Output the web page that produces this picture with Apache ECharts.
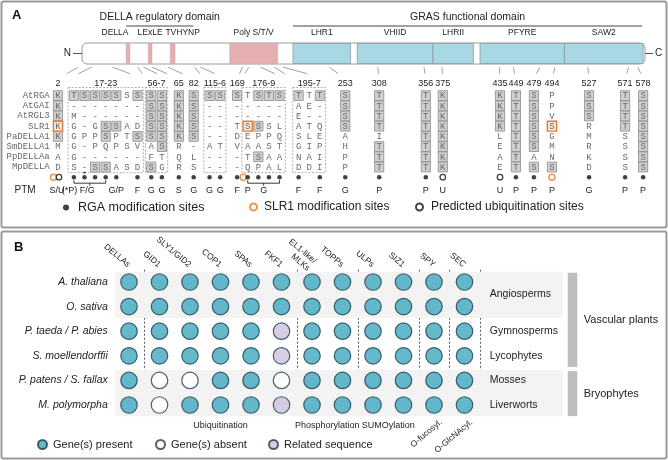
<!DOCTYPE html>
<html><head><meta charset="utf-8">
<script src="https://cdn.jsdelivr.net/npm/echarts@6/dist/echarts.min.js"></script>
<style>html,body{margin:0;padding:0;background:#fff}#c{width:668px;height:460px}</style>
</head><body><div id="c"></div>
<script>
// ================= DATA =================
// Panel A – domain architecture (RGA, amino-acid positions)
const proteinLength = 587;
const headerNames = ['DELLA regulatory domain', 'GRAS functional domain'];
const headerStart = [46, 220];
const headerEnd = [116, 584];
const domainNames = ['DELLA', 'LExLE', 'TVHYNP', 'Poly S/T/V', 'LHR1', 'VHIID', 'LHRII', 'PFYRE', 'SAW2'];
const domainStart = [46, 69, 92, 154, 220, 287, 366, 415, 503];
const domainEnd   = [50, 73, 97, 204, 280, 366, 408, 503, 585];
const domainKind  = ['reg', 'reg', 'reg', 'reg', 'gras', 'gras', 'gras', 'gras', 'gras'];

// Panel A – alignment
const species = ['AtRGA', 'AtGAI', 'AtRGL3', 'SLR1', 'PaDELLA1', 'SmDELLA1', 'PpDELLAa', 'MpDELLA'];
const siteGroups = ['2', '17-23', '56-7', '65', '82', '115-6', '169', '176-9', '195-7', '253', '308', '356', '375', '435', '449', '479', '494', '527', '571', '578'];
const groupSize = [1, 7, 2, 1, 1, 2, 1, 4, 3, 1, 1, 1, 1, 1, 1, 1, 1, 1, 1, 1];
const framedGroups = ['17-23', '56-7', '115-6', '176-9', '195-7'];
const sites = [2, 17, 18, 19, 20, 21, 22, 23, 56, 57, 65, 82, 115, 116, 169, 176, 177, 178, 179, 195, 196, 197, 253, 308, 356, 375, 435, 449, 479, 494, 527, 571, 578];
const residues = [
  'K TSSSSSS SS K S SS S TSTS TTT S T T K K T S P S T S',
  'K ------- SS K S -- - ---- AE- S T T K K T S P S T S',
  'K M------ SS K S -- - ---- E-- S T T K K T S V S T S',
  'K G-GSSAD SS K S -- T SSSL ATQ S T T K K T S S R T S',
  'K GPPSPTS SS K S -- D EPPQ SLE A I T K L T S G M S S',
  'M G-PQPSV AS R - AT V AAST GIP H T T K E T S M R S S',
  'A G------ FT Q L -- - TSAA NAI P T T K A T A N K S S',
  'D S-SSASD SG R S -- - QPAL DDI P T T K E T S S D S S'
].map(s => s.replace(/ /g, ''));
// B = boxed (conserved site), O = SLR1 site, . = not boxed
const boxes = [
  'B BBBBB.B BB B B BB B .BBB B.B B B B B B B B . B B B',
  'B ....... BB B B .. . .... ... B B B B B B B . B B B',
  'B ....... BB B B .. . .... ... B B B B B B B . B B B',
  'O ...BB.. BB B B .. . OB.. ... B B B B B B B O . B B',
  'B ...B..B BB B B .. . .... ... . . B B . B B . . . B',
  '. ....... .B . . .. . .... ... . B B B . B B . . . B',
  '. ....... .. . . .. . .B.. ... . B B B . B . . . . B',
  '. ..BB... B. . . .. . .... ... . B B B . B B B . . B'
].map(s => s.replace(/ /g, ''));
const rgaSites  = [17, 18, 19, 20, 21, 23, 56, 57, 65, 82, 115, 116, 169, 176, 177, 178, 179, 195, 197, 253, 308, 356, 449, 479, 527, 571, 578];
const slr1Sites = [2, 176, 494];
const ubiSites  = [2, 375, 435];
const starSites = [18];
const ptmLabels = ['S/U', '(*P)', '', '', '', 'G/P', '', 'F', 'G', 'G', 'S', 'G', 'G', 'G', 'F', 'P', '', '', '', 'F', '', 'F', 'G', 'P', 'P', 'U', 'U', 'P', 'P', 'P', 'G', 'P', 'P'];
const ptmBracketFrom = [17, 176];
const ptmBracketTo = [20, 179];
const ptmBracketLabel = ['F/G', 'G'];

// Panel B – presence matrix
const taxa = ['A. thaliana', 'O. sativa', 'P. taeda / P. abies', 'S. moellendorffii', 'P. patens / S. fallax', 'M. polymorpha'];
const genes = ['DELLAs', 'GID1', 'SLY1/GID2', 'COP1', 'SPAs', 'FKF1', 'EL1-like/\nMLKs', 'TOPPs', 'ULPs', 'SIZ1', 'SPY', 'SEC'];
// P = present, A = absent, R = related sequence
const presence = [
  'PPPPPPPPPPPP',
  'PPPPPPPPPPPP',
  'PPPPPRPPPPPP',
  'PPPPPRPPPPPP',
  'PAAPPAPPPPPP',
  'PAPPPRPPPPPP'
];
const taxonGroups = ['Angiosperms', 'Gymnosperms', 'Lycophytes', 'Mosses', 'Liverworts'];
const taxonGroupFrom = [0, 2, 3, 4, 5];
const taxonGroupTo = [1, 2, 3, 4, 5];
const taxonGroupShaded = [true, false, false, true, true];
const clades = ['Vascular plants', 'Bryophytes'];
const cladeFrom = [0, 4];
const cladeTo = [3, 5];
const funcGroups = ['Ubiquitination', 'Phosphorylation', 'SUMOylation', 'O-fucosyl.', 'O-GlcNAcyl.'];
const funcFrom = [1, 6, 8, 10, 11];
const funcTo = [5, 7, 9, 10, 11];

// ================= LAYOUT =================
const FONT = '"Liberation Sans", Arial, Helvetica, sans-serif';
const MONO = '"Liberation Mono", "Courier New", monospace';
const groupSlot = [0, 1.5, 8.8, 11.4, 12.8, 14.3, 16.9, 17.9, 22.7, 27.1, 30.3, 34.7, 36.3, 41.7, 43.2, 44.9, 46.6, 50.1, 53.5, 55.2];
const domainLabelDx = {0: -13, 2: 10};
const ptmLabelDx = {0: -1, 1: -4.5};
const C_PINK = '#e6afaf', C_BLUE = '#a8d8e4';
const C_TEAL = '#3fa7c1', C_LAV = '#cdc0dd', C_ORANGE = '#ec7a22';

const siteSlot = [], siteGroupIdx = [];
siteGroups.forEach((g, gi) => { for (let j = 0; j < groupSize[gi]; j++) { siteSlot.push(groupSlot[gi] + j); siteGroupIdx.push(gi); } });
const slotOf = s => siteSlot[sites.indexOf(s)];

const cellData = [];
species.forEach((sp, r) => sites.forEach((s, c) => cellData.push([siteSlot[c], r, c])));
const frameData = siteGroups.map((g, gi) => {
  const idx = sites.map((s, c) => c).filter(c => siteGroupIdx[c] === gi);
  return [siteSlot[idx[0]], siteSlot[idx[idx.length - 1]], gi];
});
const ptmData = sites.map((s, c) => [siteSlot[c], 8, c]).filter(d => ptmLabels[d[2]]);
const bracketData = ptmBracketFrom.map((a, i) => [slotOf(a), slotOf(ptmBracketTo[i]), i]);

function matrixPoints(code) {
  const out = [];
  presence.forEach((row, r) => [...row].forEach((v, c) => { if (v === code) out.push([c, r]); }));
  return out;
}

const txt = (o) => Object.assign({fontFamily: FONT, fill: '#222', align: 'center', verticalAlign: 'middle'}, o);

const option = {
  animation: false,
  backgroundColor: '#fff',
  grid: [
    {left: 82, top: 43, width: 563, height: 21, outerBoundsMode: 'none'},
    {left: 52.7, top: 90.5, width: 598.9, height: 102, outerBoundsMode: 'none'},
    {left: 113.75, top: 269.7, width: 366, height: 147.6, outerBoundsMode: 'none'}
  ],
  xAxis: [
    {gridIndex: 0, type: 'value', min: 0, max: proteinLength, show: false},
    {gridIndex: 1, type: 'value', min: -0.5, max: 56, show: false},
    {gridIndex: 2, type: 'category', position: 'top', data: genes,
     axisLine: {show: false}, axisTick: {show: false},
     axisLabel: {rotate: 40, margin: 4, fontSize: 8.5, fontFamily: FONT, color: '#222', interval: 0, lineHeight: 10},
     splitLine: {show: true, interval: (i) => funcFrom.includes(i), lineStyle: {color: '#444', type: [2, 2], width: 0.9}}}
  ],
  yAxis: [
    {gridIndex: 0, type: 'value', min: 0, max: 1, show: false},
    {gridIndex: 1, type: 'category', inverse: true, data: species.concat(['', 'PTM']),
     axisLine: {show: false}, axisTick: {show: false}, splitLine: {show: false},
     axisLabel: {interval: 0, margin: 3, fontFamily: MONO, fontSize: 9, color: '#666',
       formatter: v => v === 'PTM' ? '{p|PTM}' : v,
       rich: {p: {fontFamily: FONT, fontSize: 10, color: '#222', padding: [5, 14, 0, 0]}}}},
    {gridIndex: 2, type: 'category', inverse: true, data: taxa,
     axisLine: {show: false}, axisTick: {show: false}, splitLine: {show: false},
     axisLabel: {interval: 0, margin: 6, fontSize: 10.5, fontStyle: 'italic', fontFamily: FONT, color: '#222'}}
  ],
  legend: [
    {data: ['RGA modification sites'], left: 63, top: 201, padding: 0, itemWidth: 6, itemHeight: 6, selectedMode: false, textStyle: {fontSize: 12.5, fontFamily: FONT, color: '#222', padding: [0, 0, 0, 4]}},
    {data: ['SLR1 modification sites'], left: 249, top: 201, padding: 0, itemWidth: 7, itemHeight: 7, selectedMode: false, textStyle: {fontSize: 12, fontFamily: FONT, color: '#222', padding: [0, 0, 0, 2]}},
    {data: ['Predicted ubiquitination sites'], left: 415, top: 201, padding: 0, itemWidth: 7, itemHeight: 7, selectedMode: false, textStyle: {fontSize: 12, fontFamily: FONT, color: '#222', padding: [0, 0, 0, 3]}},
    {data: ['Gene(s) present'], left: 37, top: 439, padding: 0, itemWidth: 9, itemHeight: 9, selectedMode: false, textStyle: {fontSize: 11, fontFamily: FONT, color: '#222', padding: [0, 0, 0, 1]}},
    {data: ['Gene(s) absent'], left: 155, top: 439, padding: 0, itemWidth: 9, itemHeight: 9, selectedMode: false, textStyle: {fontSize: 11, fontFamily: FONT, color: '#222', padding: [0, 0, 0, 1]}},
    {data: ['Related sequence'], left: 268, top: 439, padding: 0, itemWidth: 9, itemHeight: 9, selectedMode: false, textStyle: {fontSize: 11, fontFamily: FONT, color: '#222', padding: [0, 0, 0, 1]}}
  ],
  series: [
    // ---- protein backbone
    {type: 'custom', name: 'backbone', xAxisIndex: 0, yAxisIndex: 0, z: 1, silent: true,
     data: [[0, proteinLength]], encode: {x: [0, 1]},
     renderItem: (p, api) => {
       const a = api.coord([api.value(0), 1]), b = api.coord([api.value(1), 0]);
       const ym = (a[1] + b[1]) / 2;
       return {type: 'group', children: [
         {type: 'rect', shape: {x: a[0], y: a[1], width: b[0] - a[0], height: b[1] - a[1], r: 5}, style: {fill: '#fff', stroke: '#9a9a9a', lineWidth: 1}},
         {type: 'line', shape: {x1: a[0] - 9, y1: ym, x2: a[0], y2: ym}, style: {stroke: '#555', lineWidth: 1}},
         {type: 'text', style: txt({text: 'N', x: a[0] - 11, y: ym, align: 'right', fontSize: 10})},
         {type: 'line', shape: {x1: b[0], y1: ym, x2: b[0] + 8, y2: ym}, style: {stroke: '#555', lineWidth: 1}},
         {type: 'text', style: txt({text: 'C', x: b[0] + 10, y: ym, align: 'left', fontSize: 10})}
       ]};
     }},
    // ---- domains / motifs
    {type: 'custom', name: 'domains', xAxisIndex: 0, yAxisIndex: 0, z: 2, silent: true,
     data: domainNames.map((n, i) => [domainStart[i], domainEnd[i], i]), encode: {x: [0, 1]},
     renderItem: (p, api) => {
       const i = api.value(2);
       const a = api.coord([api.value(0), 1]), b = api.coord([api.value(1), 0]);
       const gras = domainKind[i] === 'gras';
       return {type: 'group', children: [
         {type: 'rect', shape: {x: a[0], y: a[1] + 0.5, width: b[0] - a[0], height: b[1] - a[1] - 1},
          style: {fill: gras ? C_BLUE : C_PINK, stroke: gras ? '#8f9a9d' : '#c99', lineWidth: gras ? 0.8 : 0.4}},
         {type: 'text', style: txt({text: domainNames[i], x: (a[0] + b[0]) / 2 + (domainLabelDx[i] || 0), y: a[1] - 10, fontSize: 8.5})}
       ]};
     }},
    // ---- domain headers
    {type: 'custom', name: 'headers', xAxisIndex: 0, yAxisIndex: 0, z: 2, silent: true,
     data: headerNames.map((n, i) => [headerStart[i], headerEnd[i], i]), encode: {x: [0, 1]},
     renderItem: (p, api) => {
       const i = api.value(2);
       const a = api.coord([api.value(0), 1]), b = api.coord([api.value(1), 1]);
       return {type: 'group', children: [
         {type: 'line', shape: {x1: a[0], y1: a[1] - 17, x2: b[0], y2: a[1] - 17}, style: {stroke: '#444', lineWidth: 1}},
         {type: 'text', style: txt({text: headerNames[i], x: (a[0] + b[0]) / 2, y: a[1] - 26, fontSize: 10.5})}
       ]};
     }},
    // ---- alignment cells
    {type: 'custom', name: 'cells', xAxisIndex: 1, yAxisIndex: 1, z: 3, silent: true,
     data: cellData, encode: {x: 0, y: 1},
     renderItem: (p, api) => {
       const pt = api.coord([api.value(0), api.value(1)]);
       const r = api.value(1), c = api.value(2);
       const bx = boxes[r][c];
       const kids = [];
       if (bx !== '.') kids.push({type: 'rect', z2: bx === 'O' ? 10 : 1,
         shape: {x: pt[0] - 4.6, y: pt[1] - 4.9, width: 9.2, height: 9.8},
         style: {fill: bx === 'O' ? '#ececec' : '#cfcfcf', stroke: bx === 'O' ? C_ORANGE : '#8c8c8c', lineWidth: bx === 'O' ? 1.4 : 0.8}});
       kids.push({type: 'text', z2: 12, style: {text: residues[r][c], x: pt[0], y: pt[1] + 0.5, align: 'center', verticalAlign: 'middle', fontFamily: MONO, fontSize: 9, fill: '#6a6a6a'}});
       return {type: 'group', children: kids};
     }},
    // ---- site group labels and dashed frames
    {type: 'custom', name: 'frames', xAxisIndex: 1, yAxisIndex: 1, z: 3, silent: true,
     data: frameData, encode: {x: [0, 1]},
     renderItem: (p, api) => {
       const gi = api.value(2);
       const a = api.coord([api.value(0), 0]), b = api.coord([api.value(1), species.length - 1]);
       const sz = api.size([1, 1]);
       const xl = a[0] - 0.55 * sz[0], xr = b[0] + 0.55 * sz[0];
       const kids = [{type: 'text', style: txt({text: siteGroups[gi], x: (a[0] + b[0]) / 2, y: a[1] - 12, fontSize: 9})}];
       if (framedGroups.includes(siteGroups[gi])) kids.push({type: 'rect',
         shape: {x: xl, y: a[1] - sz[1] / 2 - 3, width: xr - xl, height: b[1] - a[1] + sz[1] + 3.5},
         style: {fill: null, stroke: '#9a9a9a', lineWidth: 0.8, lineDash: [2, 1.5]}});
       return {type: 'group', children: kids};
     }},
    // ---- PTM labels
    {type: 'custom', name: 'ptm', xAxisIndex: 1, yAxisIndex: 1, z: 3, silent: true,
     data: ptmData, encode: {x: 0, y: 1},
     renderItem: (p, api) => {
       const c = api.value(2);
       const pt = api.coord([api.value(0), 8]);
       return {type: 'text', style: txt({text: ptmLabels[c], x: pt[0] + (ptmLabelDx[c] || 0), y: pt[1] + 13, fontSize: 9})};
     }},
    // ---- PTM brackets
    {type: 'custom', name: 'brackets', xAxisIndex: 1, yAxisIndex: 1, z: 3, silent: true,
     data: bracketData, encode: {x: [0, 1]},
     renderItem: (p, api) => {
       const i = api.value(2);
       const a = api.coord([api.value(0), 8]), b = api.coord([api.value(1), 8]);
       const y = a[1] + 6, xm = (a[0] + b[0]) / 2;
       return {type: 'group', children: [
         {type: 'polyline', shape: {points: [[a[0], y - 3], [a[0], y], [b[0], y], [b[0], y - 3]]}, style: {stroke: '#222', lineWidth: 0.9, fill: null}},
         {type: 'line', shape: {x1: xm, y1: y, x2: xm, y2: y + 2.5}, style: {stroke: '#222', lineWidth: 0.9}},
         {type: 'text', style: txt({text: ptmBracketLabel[i], x: xm - (i === 0 ? 2.5 : 0), y: a[1] + 13, fontSize: 9})}
       ]};
     }},
    // ---- modification site markers
    {type: 'scatter', name: 'SLR1 modification sites', xAxisIndex: 1, yAxisIndex: 1, z: 4, silent: true,
     symbol: 'circle', symbolSize: 6, itemStyle: {color: '#fff', borderColor: C_ORANGE, borderWidth: 1.5},
     data: slr1Sites.map(s => ({value: [slotOf(s), 8], symbolOffset: (rgaSites.includes(s) || ubiSites.includes(s)) ? [-4.5, 0] : [0, 0]}))},
    {type: 'scatter', name: 'RGA modification sites', xAxisIndex: 1, yAxisIndex: 1, z: 5, silent: true,
     symbol: 'circle', symbolSize: 4.5, itemStyle: {color: '#111'},
     data: rgaSites.map(s => [slotOf(s), 8])},
    {type: 'scatter', name: 'Predicted ubiquitination sites', xAxisIndex: 1, yAxisIndex: 1, z: 5, silent: true,
     symbol: 'circle', symbolSize: 5.5, itemStyle: {color: '#fff', borderColor: '#111', borderWidth: 1.3},
     data: ubiSites.map(s => ({value: [slotOf(s), 8], symbolOffset: slr1Sites.includes(s) ? [1, 0] : [0, 0]}))},
    {type: 'scatter', name: 'star', xAxisIndex: 1, yAxisIndex: 1, z: 5, silent: true,
     symbol: 'circle', symbolSize: 2.2, symbolOffset: [0, -4.5], itemStyle: {color: '#111'},
     data: starSites.map(s => [slotOf(s), 8])},
    // ---- panel B row groups (shading + labels)
    {type: 'custom', name: 'rowGroups', xAxisIndex: 2, yAxisIndex: 2, z: 1, silent: true,
     data: taxonGroups.map((g, i) => [0, taxonGroupFrom[i], taxonGroupTo[i], i]), encode: {x: 0, y: 1},
     renderItem: (p, api) => {
       const i = api.value(3);
       const sz = api.size([1, 1]);
       const a = api.coord([0, api.value(1)]), b = api.coord([genes.length - 1, api.value(2)]);
       const gl = a[0] - sz[0] / 2, gr = b[0] + sz[0] / 2;
       const top = a[1] - sz[1] / 2, bot = b[1] + sz[1] / 2;
       const kids = [];
       if (taxonGroupShaded[i]) {
         const t = top + (i > 0 && taxonGroupShaded[i - 1] ? 0 : 2);
         const bt = bot - (i < taxonGroups.length - 1 && taxonGroupShaded[i + 1] ? 0 : 1);
         kids.push({type: 'rect', shape: {x: gl + 1.5, y: t, width: gr + 83 - gl - 1.5, height: bt - t}, style: {fill: '#f3f3f3'}});
       }
       kids.push({type: 'text', style: txt({text: taxonGroups[i], x: gr + 10, y: (top + bot) / 2, align: 'left', fontSize: 10.5})});
       return {type: 'group', children: kids};
     }},
    // ---- panel B clades
    {type: 'custom', name: 'clades', xAxisIndex: 2, yAxisIndex: 2, z: 1, silent: true,
     data: clades.map((g, i) => [0, cladeFrom[i], cladeTo[i], i]), encode: {x: 0, y: 1},
     renderItem: (p, api) => {
       const i = api.value(3);
       const sz = api.size([1, 1]);
       const a = api.coord([0, api.value(1)]), b = api.coord([genes.length - 1, api.value(2)]);
       const gr = b[0] + sz[0] / 2;
       const top = a[1] - sz[1] / 2 + 3, bot = b[1] + sz[1] / 2 - 1.2;
       return {type: 'group', children: [
         {type: 'rect', shape: {x: gr + 88, y: top, width: 9.5, height: bot - top}, style: {fill: '#bdbdbd'}},
         {type: 'text', style: txt({text: clades[i], x: gr + 104, y: (top + bot) / 2, align: 'left', fontSize: 11})}
       ]};
     }},
    // ---- panel B modification-type labels
    {type: 'custom', name: 'funcGroups', xAxisIndex: 2, yAxisIndex: 2, z: 1, silent: true,
     data: funcGroups.map((g, i) => [funcFrom[i], funcTo[i], i]), encode: {x: [0, 1]},
     renderItem: (p, api) => {
       const i = api.value(2);
       const sz = api.size([1, 1]);
       const a = api.coord([api.value(0), taxa.length - 1]), b = api.coord([api.value(1), taxa.length - 1]);
       const yb = a[1] + sz[1] / 2;
       if (api.value(0) === api.value(1)) {
         return {type: 'text', x: a[0] + 7, y: yb + 4, rotation: Math.PI * 40 / 180,
                 style: txt({text: funcGroups[i], x: 0, y: 0, align: 'right', fontSize: 8.5})};
       }
       return {type: 'text', style: txt({text: funcGroups[i], x: (a[0] + b[0]) / 2, y: yb + 8, fontSize: 9})};
     }},
    // ---- panel B presence circles
    {type: 'scatter', name: 'Gene(s) present', xAxisIndex: 2, yAxisIndex: 2, z: 4, silent: true,
     symbol: 'circle', symbolSize: 16.5, itemStyle: {color: C_TEAL, borderColor: '#1f3d46', borderWidth: 1.2},
     data: matrixPoints('P')},
    {type: 'scatter', name: 'Gene(s) absent', xAxisIndex: 2, yAxisIndex: 2, z: 4, silent: true,
     symbol: 'circle', symbolSize: 16.5, itemStyle: {color: '#fff', borderColor: '#1f3d46', borderWidth: 1.2},
     data: matrixPoints('A')},
    {type: 'scatter', name: 'Related sequence', xAxisIndex: 2, yAxisIndex: 2, z: 4, silent: true,
     symbol: 'circle', symbolSize: 16.5, itemStyle: {color: C_LAV, borderColor: '#1f3d46', borderWidth: 1.2},
     data: matrixPoints('R')}
  ]
};

const chart = echarts.init(document.getElementById('c'), null, {renderer: 'canvas'});
chart.setOption(option);

// connector lines from the protein bar to the alignment columns (through both scales)
const graphics = [
  {type: 'rect', shape: {x: 1.5, y: 1.5, width: 665, height: 226, r: 2}, style: {fill: null, stroke: '#9a9a9a', lineWidth: 2}, silent: true},
  {type: 'rect', shape: {x: 1.5, y: 231.5, width: 665, height: 227, r: 2}, style: {fill: null, stroke: '#9a9a9a', lineWidth: 2}, silent: true},
  {type: 'text', x: 12, y: 9, style: {text: 'A', font: 'bold 13px ' + FONT, fill: '#111'}, silent: true},
  {type: 'text', x: 14, y: 241, style: {text: 'B', font: 'bold 13px ' + FONT, fill: '#111'}, silent: true}
];
const yBar = chart.convertToPixel({yAxisIndex: 0}, 0);
const yTop = chart.convertToPixel({yAxisIndex: 1}, 0) - 17;
siteGroups.forEach((g, gi) => {
  const idx = sites.map((s, c) => c).filter(c => siteGroupIdx[c] === gi);
  const c0 = idx[0], c1 = idx[idx.length - 1];
  const pairs = idx.length === 1 ? [[sites[c0], siteSlot[c0]]] : [[sites[c0], siteSlot[c0] - 0.55], [sites[c1], siteSlot[c1] + 0.55]];
  pairs.forEach(([aa, slot]) => {
    const xb = chart.convertToPixel({xAxisIndex: 0}, aa);
    const xc = chart.convertToPixel({xAxisIndex: 1}, slot);
    const t1 = 0.22, t2 = 0.66;
    graphics.push({type: 'line', silent: true,
      shape: {x1: xb + (xc - xb) * t1, y1: yBar + (yTop - yBar) * t1, x2: xb + (xc - xb) * t2, y2: yBar + (yTop - yBar) * t2},
      style: {stroke: '#888', lineWidth: 0.8}});
  });
});
chart.setOption({graphic: graphics});
</script>
</body></html>
